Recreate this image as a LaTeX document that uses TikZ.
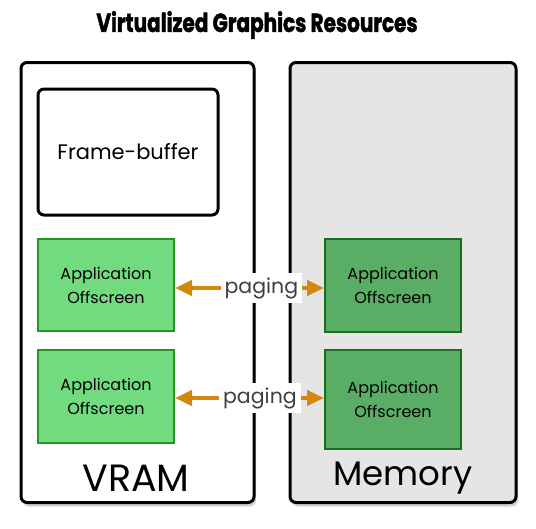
\documentclass[tikz,border=0pt]{standalone}
\usepackage{fontspec}
\setmainfont{Poppins}
\usetikzlibrary{arrows.meta,shadows}
\definecolor{vramgreen}{HTML}{72DB80}
\definecolor{vramedge}{HTML}{1F9B1F}
\definecolor{memgreen}{HTML}{5AAD65}
\definecolor{memedge}{HTML}{1B6E1B}
\definecolor{memgray}{HTML}{E5E5E5}
\definecolor{pageorange}{HTML}{D4870A}
\definecolor{pagetext}{HTML}{404040}

\begin{document}
\begin{tikzpicture}[x=1pt,y=-1pt,
    panel/.style={draw,line width=3pt,rounded corners=6pt,minimum width=233pt,minimum height=440pt,
      drop shadow={shadow xshift=2pt,shadow yshift=-4pt,opacity=0.35}},
    fbox/.style={draw,line width=3pt,rounded corners=6pt,minimum width=180pt,minimum height=126pt,font=\fontsize{21}{24}\selectfont},
    appbox/.style={draw,line width=2pt,minimum width=136pt,minimum height=92pt,align=center,font=\fontsize{16}{24}\selectfont},
    pagearrow/.style={pageorange,line width=4pt,{Triangle[width=15pt,length=17pt]}-{Triangle[width=15pt,length=17pt]}},
    paglabel/.style={fill=white,text=pagetext,inner sep=4pt,font=\fontsize{20.5}{22}\selectfont}]
  \useasboundingbox (0,0) rectangle (536,528);
  \node (title) at (257,25) {\scalebox{0.77}[1]{\fontsize{26}{28}\selectfont\bfseries\addfontfeatures{FakeBold=2} Virtualized Graphics Resources}};
  % panels
  \node[panel,fill=white] (vram) at (137.5,282.5) {};
  \node[panel,fill=memgray,minimum width=226pt] (mem) at (403,282.5) {};
  \node[fbox] (fb) at (128,152) {Frame-buffer};
  \node[appbox,fill=vramgreen,draw=vramedge] (lapp1) at (106,285) {Application\\Offscreen};
  \node[appbox,fill=vramgreen,draw=vramedge,minimum height=93pt] (lapp2) at (106,396.5) {Application\\Offscreen};
  \node[appbox,fill=memgreen,draw=memedge,minimum height=93pt] (rapp1) at (393,285.5) {Application\\Offscreen};
  \node[appbox,fill=memgreen,draw=memedge,minimum height=99pt] (rapp2) at (393,399.5) {Application\\Offscreen};
  \node[font=\fontsize{38}{40}\selectfont] (vramlabel) at (136,478) {VRAM};
  \node[font=\fontsize{34}{40}\selectfont] (memlabel) at (403,478) {Memory};
  % paging
  \draw[pagearrow] ([yshift=-3pt]lapp1.east) -- ([yshift=-2.5pt]rapp1.west) node[pos=0.58,paglabel] {paging};
  \draw[pagearrow] ([yshift=-1.5pt]lapp2.east) -- ([yshift=1.5pt]rapp2.west) node[pos=0.57,paglabel] {paging};
\end{tikzpicture}
\end{document}
